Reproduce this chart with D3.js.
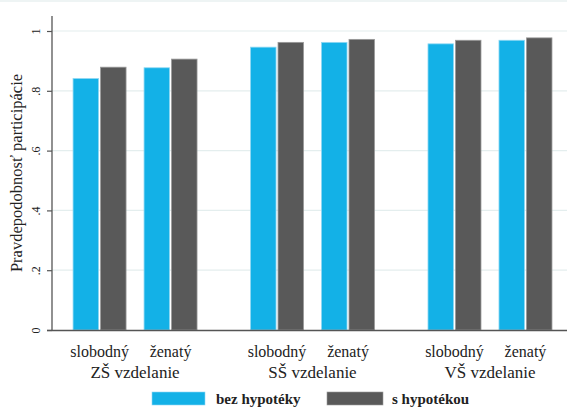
<!DOCTYPE html>
<html>
<head>
<meta charset="utf-8">
<script src="https://cdn.jsdelivr.net/npm/d3@7"></script>
<style>
  body { margin: 0; background: #fff; }
  text { font-family: "Liberation Serif", serif; fill: #222; }
</style>
</head>
<body>
<div id="chart"></div>
<script>
// data
const groups = ["ZŠ vzdelanie", "SŠ vzdelanie", "VŠ vzdelanie"];
const statuses = ["slobodný", "ženatý"];
const seriesNames = ["bez hypotéky", "s hypotékou"];
const bezHypoteky = [0.841, 0.877, 0.946, 0.962, 0.957, 0.969];
const sHypotekou = [0.879, 0.906, 0.962, 0.972, 0.969, 0.977];
const yTicks = [0, 0.2, 0.4, 0.6, 0.8, 1];
const yTickLabels = ["0", ".2", ".4", ".6", ".8", "1"];

const colors = ["#13b1e7", "#595959"];
const strokes = ["#8fd8f3", "#9a9a9a"];

const W = 567, H = 408;
const svg = d3.select("#chart").append("svg")
    .attr("width", W)
    .attr("height", H);

// bar slots: two statuses per group, 1.5 slot gap between groups
const slots = [];
groups.forEach((g, gi) => {
    statuses.forEach((s, si) => {
        slots.push({group: g, status: s, pos: gi * 2.5 + si});
    });
});

const x = d3.scaleLinear().domain([-0.67, 6.585]).range([52, 567]);
const y = d3.scaleLinear().domain([0, 1]).range([330, 31]);
const barW = 25.5, gap = 1;

// frame top line
svg.append("line")
    .attr("x1", 0).attr("x2", W).attr("y1", 1).attr("y2", 1)
    .attr("stroke", "#e8f0f0").attr("stroke-width", 1.5);

// gridlines
svg.append("g")
    .selectAll("line")
    .data(yTicks.slice(1))
    .join("line")
    .attr("x1", 52).attr("x2", W)
    .attr("y1", d => y(d)).attr("y2", d => y(d))
    .attr("stroke", "#e4eeee").attr("stroke-width", 1.2);

// bars
const series = [bezHypoteky, sHypotekou];
series.forEach((vals, k) => {
    svg.append("g")
        .selectAll("rect")
        .data(slots)
        .join("rect")
        .attr("x", (d) => k === 0 ? x(d.pos) - gap - barW : x(d.pos) + gap)
        .attr("y", (d, i) => y(vals[i]))
        .attr("width", barW)
        .attr("height", (d, i) => y(0) - y(vals[i]))
        .attr("fill", colors[k])
        .attr("stroke", strokes[k])
        .attr("stroke-width", 0.8);
});

// y axis
const yAxis = svg.append("g")
    .attr("transform", "translate(52,0)")
    .call(d3.axisLeft(y).tickValues(yTicks).tickSize(5).tickFormat((d, i) => yTickLabels[i]));
yAxis.select(".domain").attr("stroke", "#555").attr("stroke-width", 1.3).attr("d", "M0,330V16");
yAxis.selectAll(".tick line").attr("stroke", "#555").attr("stroke-width", 1.2);
yAxis.selectAll(".tick text")
    .attr("font-size", 12)
    .attr("text-anchor", "middle")
    .attr("x", 0).attr("dy", 0)
    .attr("transform", "translate(-15,0) rotate(-90)")
    .attr("dominant-baseline", "middle")
    .style("font-family", "Liberation Serif, serif")
    .attr("fill", "#222");

// x axis line
svg.append("line")
    .attr("x1", 47).attr("x2", W)
    .attr("y1", 330.5).attr("y2", 330.5)
    .attr("stroke", "#555").attr("stroke-width", 1.5);

// status labels
svg.append("g")
    .selectAll("text")
    .data(slots)
    .join("text")
    .attr("x", d => x(d.pos))
    .attr("y", 357)
    .attr("text-anchor", "middle")
    .attr("font-size", 16)
    .text(d => d.status);

// group labels
svg.append("g")
    .selectAll("text")
    .data(groups)
    .join("text")
    .attr("x", (d, i) => x(i * 2.5 + 0.5))
    .attr("y", 378)
    .attr("text-anchor", "middle")
    .attr("font-size", 17)
    .text(d => d);

// y title
svg.append("text")
    .attr("transform", "translate(22,173) rotate(-90)")
    .attr("text-anchor", "middle")
    .attr("font-size", 16.5)
    .text("Pravdepodobnosť participácie");

// legend
const legendX = [152, 327];
seriesNames.forEach((name, k) => {
    svg.append("rect")
        .attr("x", legendX[k]).attr("y", 392)
        .attr("width", k === 0 ? 53 : 56).attr("height", 13)
        .attr("fill", colors[k])
        .attr("stroke", strokes[k]).attr("stroke-width", 0.6);
    svg.append("text")
        .attr("x", legendX[k] + (k === 0 ? 64 : 65))
        .attr("y", 404)
        .attr("font-size", 15)
        .attr("font-weight", "bold")
        .attr("fill", "#333")
        .text(name);
});
</script>
</body>
</html>
